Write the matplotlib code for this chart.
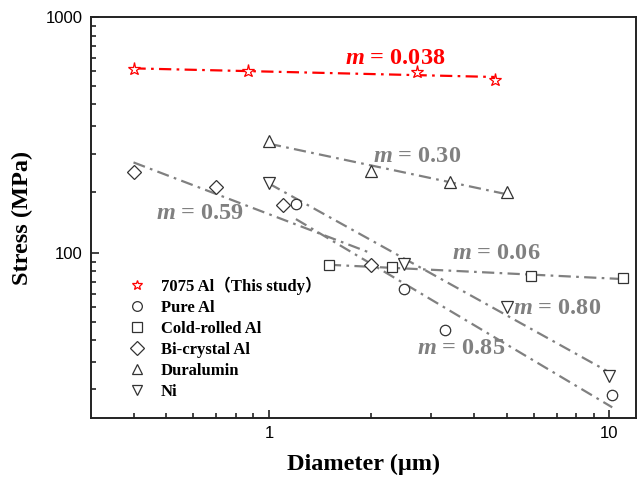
import numpy as np
import matplotlib.pyplot as plt
from matplotlib.ticker import FixedLocator, NullFormatter, FixedFormatter

# stress vs diameter, log-log, with power-law fits (sigma ~ d^-m)

# ---- data ----
d_7075 = [0.40, 0.87, 2.73, 4.60]
s_7075 = [602, 592, 588, 543]

d_pure = [1.2, 2.5, 3.3, 10.2]
s_pure = [162, 70, 47, 25]

d_cold = [1.5, 2.3, 5.9, 11.0]
s_cold = [89, 87, 80, 78]

d_bicr = [0.40, 0.70, 1.10, 2.0]
s_bicr = [220, 190, 160, 89]

d_dura = [1.0, 2.0, 3.4, 5.0]
s_dura = [300, 222, 201, 181]

d_ni = [1.0, 2.5, 5.0, 10.0]
s_ni = [198, 90, 59, 30]

labels = ['7075 Al（This study）', 'Pure Al', 'Cold-rolled Al',
          'Bi-crystal Al', 'Duralumin', 'Ni']
m_labels = ['0.038', '0.85', '0.06', '0.59', '0.30', '0.80']

plt.rcParams['mathtext.fontset'] = 'custom'
plt.rcParams['mathtext.rm'] = 'Liberation Serif:bold'
plt.rcParams['mathtext.bfit'] = 'Liberation Serif:bold:italic'
plt.rcParams['mathtext.it'] = 'Liberation Serif:bold:italic'

fig = plt.figure(figsize=(6.38, 4.83), dpi=100)
ax = fig.add_axes([0.1426, 0.1352, 0.8547, 0.8290])
ax.set_xscale('log')
ax.set_yscale('log')
ax.set_xlim(0.3, 12)
ax.set_ylim(20, 1000)

RED = '#ff0000'
GRAY = '#808080'
EDGE = '#333333'
dash = (0, (5.5, 2.4, 1.2, 2.4))

series = [
    (d_7075, s_7075, '*', RED, 9.5),
    (d_pure, s_pure, 'o', EDGE, 7.5),
    (d_cold, s_cold, 's', EDGE, 7),
    (d_bicr, s_bicr, 'D', EDGE, 7),
    (d_dura, s_dura, '^', EDGE, 8.5),
    (d_ni, s_ni, 'v', EDGE, 8.5),
]

handles = []
for (d, s, mk, col, ms), lab in zip(series, labels):
    d = np.array(d)
    s = np.array(s)
    # fit line in log space
    k, b = np.polyfit(np.log10(d), np.log10(s), 1)
    xx = np.array([d.min(), d.max()])
    lcol = RED if col == RED else GRAY
    ax.plot(xx, 10 ** (k * np.log10(xx) + b), linestyle=dash, color=lcol,
            lw=1.6, zorder=2)
    h, = ax.plot(d, s, linestyle='none', marker=mk, ms=ms, mfc='white',
                 mec=col, mew=0.9, zorder=3, label=lab)
    handles.append(h)

# slope annotations (axes fraction)
m_pos = [(0.5575, 0.8983), (0.6785, 0.1716), (0.7427, 0.4113),
         (0.1999, 0.5110), (0.5978, 0.6535), (0.8546, 0.2715)]
for i, (txt, (px, py)) in enumerate(zip(m_labels, m_pos)):
    c = RED if i == 0 else GRAY
    ax.text(px, py, r'$\mathbfit{m}$ = ' + txt, transform=ax.transAxes,
            ha='center', va='center', fontsize=17.5, color=c,
            fontfamily='Liberation Serif', fontweight='bold')

leg = ax.legend(handles=handles, loc='upper left', bbox_to_anchor=(0.0568, 0.369),
                frameon=False, handletextpad=0.94, labelspacing=0.30,
                borderaxespad=0, handlelength=1.0,
                prop={'family': ['Liberation Serif', 'Noto Sans CJK SC'],
                      'weight': 'bold', 'size': 12})
for h in leg.legend_handles:
    h.set_markersize(7)

# ticks (Origin style minor ticks on y)
yminor = []
for base in [10, 100]:
    for k in range(1, 11):
        yminor.append(base * (1 + 9 * k / 11))
ax.yaxis.set_major_locator(FixedLocator([100, 1000]))
ax.yaxis.set_major_formatter(FixedFormatter(['100', '1000']))
ax.yaxis.set_minor_locator(FixedLocator(yminor))
ax.yaxis.set_minor_formatter(NullFormatter())
ax.xaxis.set_major_locator(FixedLocator([1, 10]))
ax.xaxis.set_major_formatter(FixedFormatter(['1', '10']))
ax.xaxis.set_minor_locator(FixedLocator([0.4, 0.5, 0.6, 0.7, 0.8, 0.9,
                                         2, 3, 4, 5, 6, 7, 8, 9]))
ax.xaxis.set_minor_formatter(NullFormatter())

ax.tick_params(which='both', direction='in', top=False, right=False,
               color='#222222', width=1.2)
ax.tick_params(which='major', length=6, pad=6, labelsize=12)
ax.tick_params(which='minor', length=3.5)
for lab in ax.get_xticklabels() + ax.get_yticklabels():
    lab.set_fontfamily('Liberation Sans')
for sp in ax.spines.values():
    sp.set_linewidth(1.4)
    sp.set_color('#222222')

ax.set_xlabel('Diameter (μm)', fontfamily='Liberation Serif', fontweight='bold',
              fontsize=17.5, labelpad=9)
ax.set_ylabel('Stress (MPa)', fontfamily='Liberation Serif', fontweight='bold',
              fontsize=17.5, labelpad=9)

fig.savefig('out.png', dpi=100)
